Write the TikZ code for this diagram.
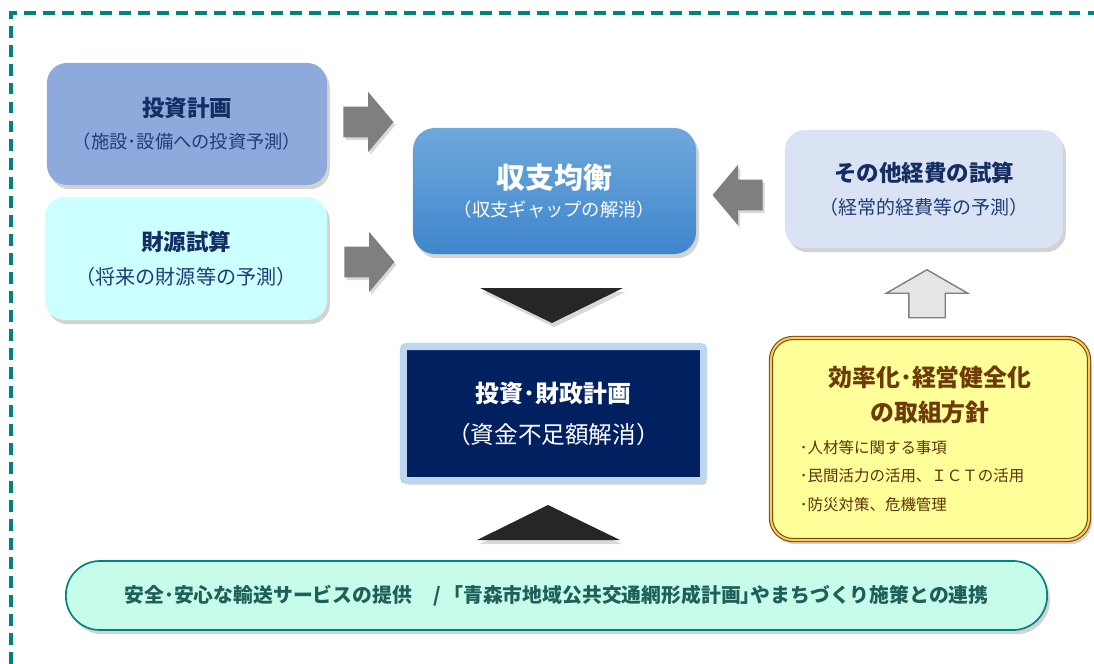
\documentclass[tikz,border=0pt]{standalone}
\usepackage{fontspec}
\setmainfont{Noto Sans CJK JP}
\usepackage{xcolor}
\usepackage{tikz}
\usetikzlibrary{shapes,arrows,shadows}
\definecolor{framegreen}{HTML}{00827F}
\definecolor{navytext}{HTML}{152D62}
\definecolor{navysub}{HTML}{203C78}
\definecolor{invblue}{HTML}{8EA9DB}
\definecolor{fundcyan}{HTML}{CCFFFF}
\definecolor{othblue}{HTML}{DAE3F3}
\definecolor{baltop}{HTML}{6FA8DC}
\definecolor{balbot}{HTML}{3F86CC}
\definecolor{plannavy}{HTML}{002060}
\definecolor{planedge}{HTML}{BDD7EE}
\definecolor{effyellow}{HTML}{FFFF99}
\definecolor{effbrown}{HTML}{7A4A14}
\definecolor{efftext}{HTML}{6E3A08}
\definecolor{mint}{HTML}{C6FCE9}
\definecolor{tealtext}{HTML}{1E5F5A}
\definecolor{arrowgray}{HTML}{7F7F7F}
\definecolor{tridark}{HTML}{262626}
\tikzstyle{frame} = [draw=framegreen, line width=2.8pt, dash pattern=on 8.5pt off 5pt]
\tikzstyle{block} = [rectangle, rounded corners=0.5cm, align=center, drop shadow={shadow xshift=2pt, shadow yshift=-3pt, opacity=0.35}]
\tikzstyle{grayarrow} = [single arrow, fill=arrowgray, inner xsep=0pt, inner ysep=0.375cm, minimum height=1.25cm, minimum width=1.5cm, single arrow head extend=0.375cm, single arrow tip angle=100, drop shadow={shadow xshift=1.5pt, shadow yshift=-2pt, opacity=0.3}]
\tikzstyle{tri} = [fill=tridark, drop shadow={shadow xshift=1.5pt, shadow yshift=-3pt, opacity=0.3}]

\begin{document}
\begin{tikzpicture}[x=0.025cm,y=-0.025cm]
\useasboundingbox (0,0) rectangle (1094,664);
\draw [frame] (11,664) -- (11,13) -- (1094,13);

\node [block, fill=invblue, text=navytext, minimum width=7cm, minimum height=3.05cm] (inv) at (187,124)
  {{\fontsize{16}{18}\selectfont\bfseries 投資計画}\\[9pt]{\fontsize{13}{15}\selectfont\color{navysub}（施設･設備への投資予測）}};
\node [block, fill=fundcyan, text=navytext, minimum width=7.05cm, minimum height=3.075cm] (fund) at (186,258.5)
  {{\fontsize{16}{18}\selectfont\bfseries 財源試算}\\[9pt]{\fontsize{14.3}{16}\selectfont\color{navysub}（将来の財源等の予測）}};
\node [block, top color=baltop, bottom color=balbot, text=white, minimum width=7.075cm, minimum height=3.15cm, rounded corners=0.55cm] (bal) at (554.5,191)
  {{\fontsize{20.5}{22}\selectfont\bfseries 収支均衡}\\[6pt]{\fontsize{13}{15}\selectfont （収支ギャップの解消）}};
\node [block, fill=othblue, text=navytext, minimum width=6.95cm, minimum height=2.95cm] (oth) at (924,189)
  {{\fontsize{16}{18}\selectfont\bfseries その他経費の試算}\\[9pt]{\fontsize{13.5}{15}\selectfont\color{navysub}（経常的経費等の予測）}};

\node [grayarrow] (a1) at (362,122) {};
\node [grayarrow] (a2) at (363,262) {};
\node [grayarrow, shape border rotate=180] (a3) at (744,195) {};
\node [single arrow, fill=gray!20, draw=arrowgray, line width=1pt, inner xsep=0.4375cm, inner ysep=0pt, minimum height=1.2cm, minimum width=2cm, single arrow head extend=0.5625cm, single arrow tip angle=120, shape border rotate=90] (a4) at (927,299) {};

\path [tri] (480,288) -- (623,288) -- (552,323) -- cycle;

\node [block, rounded corners=2pt, fill=plannavy, draw=planedge, line width=5pt, text=white, minimum width=7.5cm, minimum height=3.35cm] (plan) at (553.5,413.5)
  {{\fontsize{17}{19}\selectfont\bfseries 投資･財政計画}\\[12pt]{\fontsize{16.8}{19}\selectfont （資金不足額解消）}};

\path [tri] (477,540) -- (620,540) -- (548,505) -- cycle;

\node [block, rounded corners=0.55cm, fill=effyellow, draw=effbrown, line width=0.8pt, double=effyellow!60!orange, double distance=1.4pt, text=efftext, minimum width=7.95cm, minimum height=5.05cm, text width=6.5cm, align=left] (eff) at (930,439)
  {\fontsize{17}{24.8}\selectfont\bfseries
   \makebox[\linewidth]{効率化･経営健全化}\\
   \makebox[\linewidth]{の取組方針}\par
   \fontsize{11}{20.5}\selectfont\mdseries\color{efftext!85!black}\vspace{2pt}
   ･人材等に関する事項\\
   ･民間活力の活用、ＩＣＴの活用\\
   ･防災対策、危機管理\par};

\node [block, rounded corners=0.85cm, fill=mint, draw=framegreen, line width=1.2pt, text=tealtext, minimum width=24.525cm, minimum height=1.725cm] (base) at (556.5,595.5)
  {\fontsize{14.1}{16}\selectfont\bfseries 安全･安心な輸送サービスの提供\hspace{1.1em}/\hspace{0.6em}｢青森市地域公共交通網形成計画｣やまちづくり施策との連携};
\end{tikzpicture}
\end{document}
